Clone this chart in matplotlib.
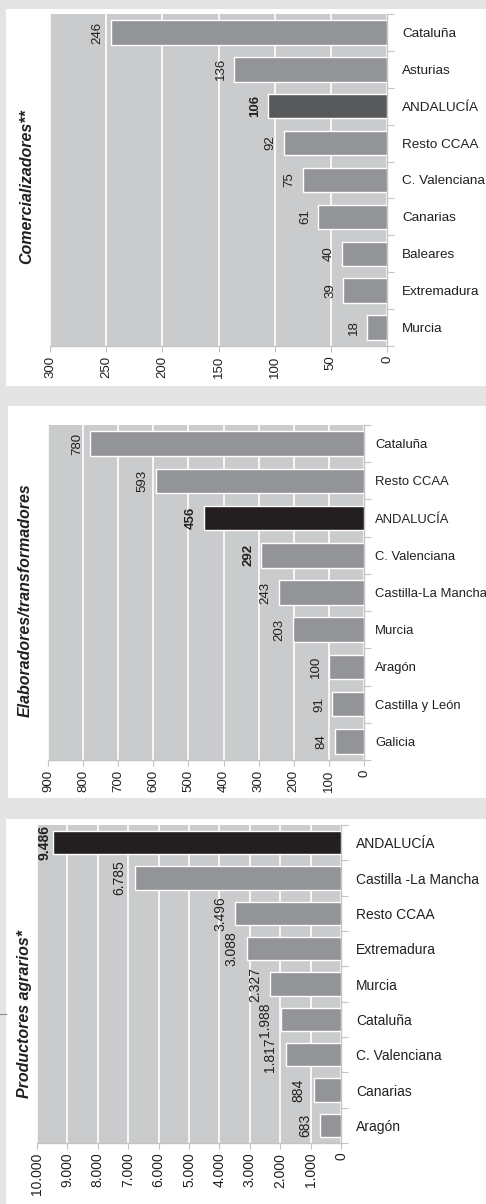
import matplotlib
matplotlib.use('Agg')
import matplotlib.pyplot as plt
from matplotlib.patches import Rectangle
from matplotlib.lines import Line2D

plt.rcParams['font.family'] = ['Liberation Sans', 'DejaVu Sans']

# Panel 1: Comercializadores
com_regions = ['Cataluña', 'Asturias', 'ANDALUCÍA', 'Resto CCAA', 'C. Valenciana',
               'Canarias', 'Baleares', 'Extremadura', 'Murcia']
com_values = [246, 136, 106, 92, 75, 61, 40, 39, 18]
com_ticks = [0, 50, 100, 150, 200, 250, 300]
com_ticklabels = ['0', '50', '100', '150', '200', '250', '300']

# Panel 2: Elaboradores/transformadores
ela_regions = ['Cataluña', 'Resto CCAA', 'ANDALUCÍA', 'C. Valenciana', 'Castilla-La Mancha',
               'Murcia', 'Aragón', 'Castilla y León', 'Galicia']
ela_values = [780, 593, 456, 292, 243, 203, 100, 91, 84]
ela_ticks = [0, 100, 200, 300, 400, 500, 600, 700, 800, 900]
ela_ticklabels = ['0', '100', '200', '300', '400', '500', '600', '700', '800', '900']

# Panel 3: Productores agrarios
pro_regions = ['ANDALUCÍA', 'Castilla -La Mancha', 'Resto CCAA', 'Extremadura', 'Murcia',
               'Cataluña', 'C. Valenciana', 'Canarias', 'Aragón']
pro_values = [9486, 6785, 3496, 3088, 2327, 1988, 1817, 884, 683]
pro_valuelabels = ['9.486', '6.785', '3.496', '3.088', '2.327', '1.988', '1.817', '884', '683']
pro_ticks = [0, 1000, 2000, 3000, 4000, 5000, 6000, 7000, 8000, 9000, 10000]
pro_ticklabels = ['0', '1.000', '2.000', '3.000', '4.000', '5.000', '6.000',
                  '7.000', '8.000', '9.000', '10.000']

W, H = 486, 1204
BG = '#e4e4e4'
PLOT_BG = '#cacbcc'
BAR = '#939498'
TEXT = '#231f20'
SPINE = '#c4c4c4'

fig = plt.figure(figsize=(W / 100, H / 100), dpi=100, facecolor=BG)


def px_rect(x0, y0, x1, y1):
    return [x0 / W, 1 - y1 / H, (x1 - x0) / W, (y1 - y0) / H]


# white panel boxes
for x0, y0, x1, y1 in [(6, 9, 486, 386), (8, 406, 486, 798), (6, 819, 486, 1204)]:
    r = px_rect(x0, y0, x1, y1)
    fig.patches.append(Rectangle((r[0], r[1]), r[2], r[3], transform=fig.transFigure,
                                 facecolor='white', edgecolor='none', zorder=-10))
fig.add_artist(Line2D([0, 6 / W], [1 - 1014 / H, 1 - 1014 / H], color='#8a8a8a', lw=0.8))


def panel(rect, regions, values, colors, bold, ticks, ticklabels, xmax, title, title_xy,
          valuelabels=None, offsets=None, fs=9.5, cat_fs=9.7, cat_pad=11):
    ax = fig.add_axes(px_rect(*rect))
    ax.set_facecolor(PLOT_BG)
    n = len(regions)
    y = list(range(n))
    ax.barh(y, values, height=0.66, color=colors, edgecolor='white', linewidth=1.0, zorder=3)
    ax.set_xlim(xmax, 0)
    ax.set_ylim(n - 0.5, -0.5)
    ax.set_xticks(ticks)
    ax.set_xticklabels(ticklabels, rotation=90, fontsize=fs, color=TEXT)
    ax.grid(axis='x', color='white', lw=1.2, zorder=1)
    ax.set_axisbelow(True)
    ax.yaxis.tick_right()
    ax.set_yticks(y)
    ax.set_yticklabels(regions, fontsize=cat_fs, color=TEXT)
    ax.set_yticks([i - 0.5 for i in range(n + 1)], minor=True)
    ax.tick_params(axis='y', which='major', length=0, pad=cat_pad)
    ax.tick_params(axis='y', which='minor', length=5, color=SPINE, width=0.8)
    ax.tick_params(axis='x', length=4, color=SPINE, width=0.8, pad=3)
    for s in ['top', 'left']:
        ax.spines[s].set_visible(False)
    for s in ['right', 'bottom']:
        ax.spines[s].set_color(SPINE)
        ax.spines[s].set_linewidth(1.0)
    if valuelabels is None:
        valuelabels = [str(v) for v in values]
    for i, v in enumerate(values):
        off = offsets[i] if offsets else -5
        ax.annotate(valuelabels[i], xy=(v, i), xytext=(off, 0), textcoords='offset points',
                    rotation=90, ha='right', va='center', fontsize=fs, color=TEXT,
                    fontweight='bold' if i in bold else 'normal', zorder=5,
                    annotation_clip=False)
    fig.text(title_xy[0] / W, 1 - title_xy[1] / H, title, rotation=90, ha='center', va='center',
             fontsize=11.5, fontweight='bold', fontstyle='italic', color=TEXT)
    return ax


com_colors = [BAR] * len(com_values)
com_colors[2] = '#58595b'
panel((50, 14, 387, 346), com_regions, com_values, com_colors, [2], com_ticks, com_ticklabels,
      300, 'Comercializadores**', (27, 187))

ela_colors = [BAR] * len(ela_values)
ela_colors[2] = '#231f20'
panel((48, 425, 364, 760), ela_regions, ela_values, ela_colors, [2, 3], ela_ticks, ela_ticklabels,
      900, 'Elaboradores/transformadores', (25, 600), cat_fs=9.4, cat_pad=8)

pro_colors = [BAR] * len(pro_values)
pro_colors[0] = '#231f20'
pro_offsets = [-0.5, -6, -5, -6, -6, -6, -6, -6, -6]
panel((37, 825, 341, 1143), pro_regions, pro_values, pro_colors, [0], pro_ticks, pro_ticklabels,
      10000, 'Productores agrarios*', (25, 1014), valuelabels=pro_valuelabels,
      offsets=pro_offsets, fs=10, cat_fs=10)

fig.savefig('out.png', dpi=100, facecolor=BG)
